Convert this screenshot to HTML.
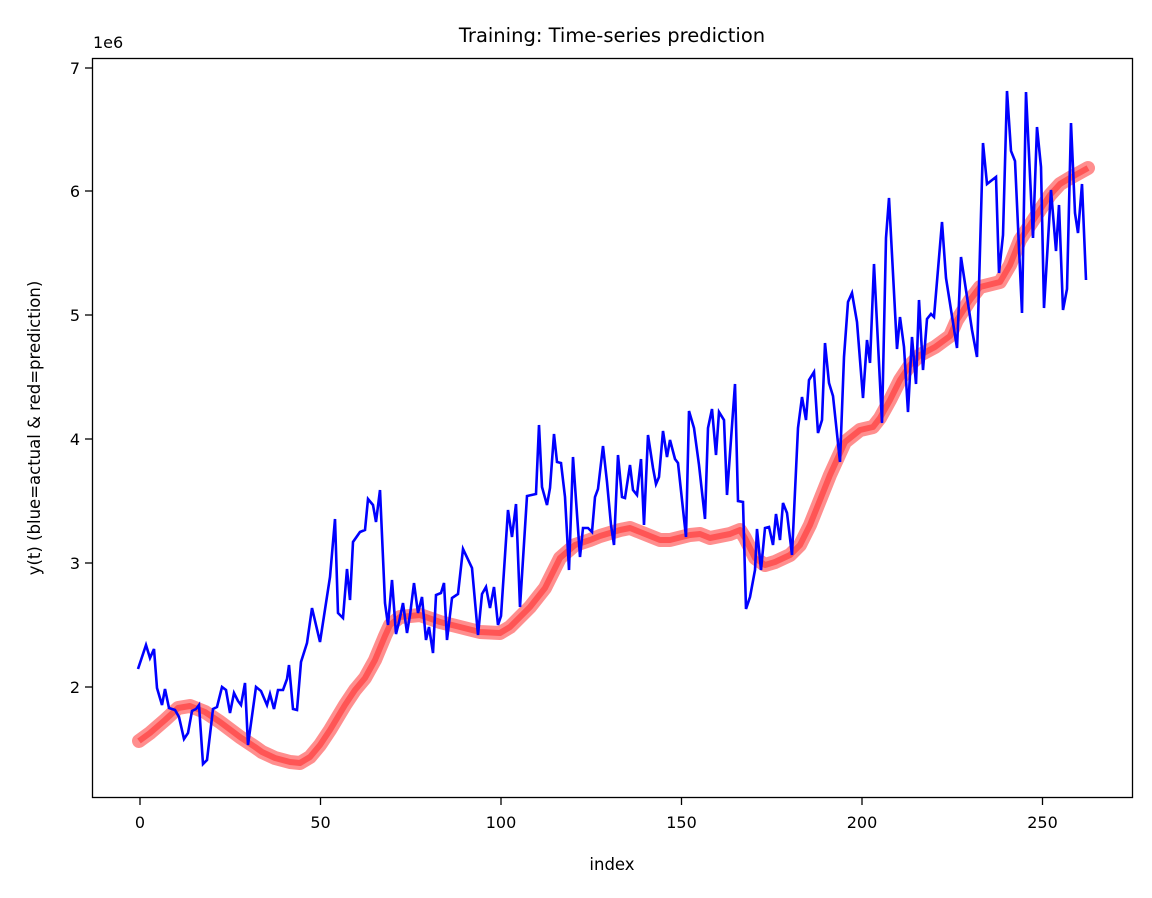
<!DOCTYPE html>
<html><head><meta charset="utf-8"><style>body{margin:0;background:#fff}svg{display:block;font-family:"DejaVu Sans","Liberation Sans",sans-serif}</style></head><body>
<svg width="1152" height="898" viewBox="0 0 1152 898">
<rect width="1152" height="898" fill="#fff"/>
<polyline fill="none" stroke="rgba(255,30,30,0.5)" stroke-width="14" stroke-linejoin="round" stroke-linecap="round" points="139,741 150,733 165,720 178,708 190,706 205,712 220,722 240,737 255,747 262,752 275,758 290,762 300,763 310,757 320,745 330,730 345,705 355,690 365,678 375,660 385,636 390,625 400,617 420,615 440,622 460,627 480,632 500,633 510,627 520,617 530,607 545,588 560,558 575,545 590,540 600,536 610,533 620,530 630,528 640,532 660,540 670,540 690,535 700,534 710,538 730,534 740,530 745,538 755,558 765,565 775,562 790,555 800,545 810,525 820,500 830,475 840,453 845,442 860,430 873,427 880,418 890,400 900,380 910,365 920,355 935,347 950,336 957,320 970,300 980,287 1000,282 1010,265 1020,240 1030,225 1040,210 1050,195 1060,184 1070,178 1088,168"/>
<polyline fill="none" stroke="rgba(255,0,0,0.4)" stroke-width="6" stroke-linejoin="round" points="139,741 150,733 165,720 178,708 190,706 205,712 220,722 240,737 255,747 262,752 275,758 290,762 300,763 310,757 320,745 330,730 345,705 355,690 365,678 375,660 385,636 390,625 400,617 420,615 440,622 460,627 480,632 500,633 510,627 520,617 530,607 545,588 560,558 575,545 590,540 600,536 610,533 620,530 630,528 640,532 660,540 670,540 690,535 700,534 710,538 730,534 740,530 745,538 755,558 765,565 775,562 790,555 800,545 810,525 820,500 830,475 840,453 845,442 860,430 873,427 880,418 890,400 900,380 910,365 920,355 935,347 950,336 957,320 970,300 980,287 1000,282 1010,265 1020,240 1030,225 1040,210 1050,195 1060,184 1070,178 1088,168"/>
<polyline fill="none" stroke="#0000ff" stroke-width="2.6" stroke-linejoin="miter" points="138,669 146,645 150,658 154,649 157,688 162,705 165,689 169,708 175,710 179,717 184,739 188,733 192,711 196,709 199,705 203,764 207,760 213,709 217,707 222,687 226,690 230,713 234,693 238,701 241,705 245,683 248,745 256,687 261,691 267,705 270,694 274,709 278,690 283,690 287,679 289,665 293,709 297,710 301,662 307,643 312,608 320,642 330,577 335,519 338,613 343,618 347,569 350,600 353,542 360,532 365,530 368,499 373,505 376,522 380,490 385,603 388,625 392,580 396,634 399,622 403,603 407,633 410,615 414,583 418,613 422,597 426,640 429,627 433,653 436,595 441,593 444,583 447,640 452,598 458,594 463,549 472,568 478,635 482,594 486,587 490,608 494,587 498,625 501,616 508,510 512,537 516,504 520,607 527,496 536,494 539,425 542,487 547,505 550,488 554,434 557,462 561,463 565,497 569,570 573,457 580,557 583,528 588,528 592,532 595,497 598,489 603,446 607,482 611,525 614,545 618,455 622,497 625,498 630,465 633,490 637,495 641,459 644,525 648,435 653,468 656,484 659,477 663,431 667,457 670,440 675,459 678,463 686,537 689,411 694,428 699,465 705,519 708,428 712,409 716,455 719,412 724,420 727,495 735,384 738,501 743,502 746,609 750,597 755,570 757,529 761,570 765,528 769,527 773,545 776,514 780,540 783,503 787,513 792,555 798,428 802,397 806,420 809,380 814,372 818,433 822,420 825,343 829,383 833,396 840,462 844,357 848,302 852,293 857,322 863,398 867,340 870,363 874,264 882,423 886,238 889,198 897,349 900,317 904,347 908,412 912,337 916,384 919,300 923,370 927,319 931,314 934,317 942,222 946,278 957,348 961,257 972,330 977,357 983,143 987,184 996,177 999,273 1003,235 1007,91 1011,151 1015,161 1022,313 1026,92 1033,238 1037,127 1041,167 1044,308 1051,190 1056,251 1059,205 1063,310 1067,289 1071,123 1075,213 1078,233 1082,184 1086,280"/>
<rect x="92.5" y="58.5" width="1040" height="739" fill="none" stroke="#000" stroke-width="1.3"/>
<g stroke="#000" stroke-width="1.3">
<line x1="140" y1="798" x2="140" y2="805"/><line x1="320.5" y1="798" x2="320.5" y2="805"/><line x1="501" y1="798" x2="501" y2="805"/><line x1="681.5" y1="798" x2="681.5" y2="805"/><line x1="862" y1="798" x2="862" y2="805"/><line x1="1042.5" y1="798" x2="1042.5" y2="805"/>
<line x1="85" y1="687" x2="92" y2="687"/><line x1="85" y1="563" x2="92" y2="563"/><line x1="85" y1="439" x2="92" y2="439"/><line x1="85" y1="315" x2="92" y2="315"/><line x1="85" y1="191" x2="92" y2="191"/><line x1="85" y1="68" x2="92" y2="68"/>
</g>
<g font-size="16" fill="#000" text-anchor="middle">
<text x="140" y="828">0</text><text x="320.5" y="828">50</text><text x="501" y="828">100</text><text x="681.5" y="828">150</text><text x="862" y="828">200</text><text x="1042.5" y="828">250</text>
</g>
<g font-size="16" fill="#000" text-anchor="end">
<text x="80" y="693">2</text><text x="80" y="569">3</text><text x="80" y="445">4</text><text x="80" y="321">5</text><text x="80" y="197">6</text><text x="80" y="74">7</text>
</g>
<text x="93" y="48" font-size="16">1e6</text>
<text x="612" y="870" font-size="16.5" text-anchor="middle">index</text>
<text transform="translate(40,428) rotate(-90)" font-size="16.5" text-anchor="middle">y(t) (blue=actual &amp; red=prediction)</text>
<text x="612" y="42" font-size="19.5" text-anchor="middle">Training: Time-series prediction</text>
</svg>
</body></html>
